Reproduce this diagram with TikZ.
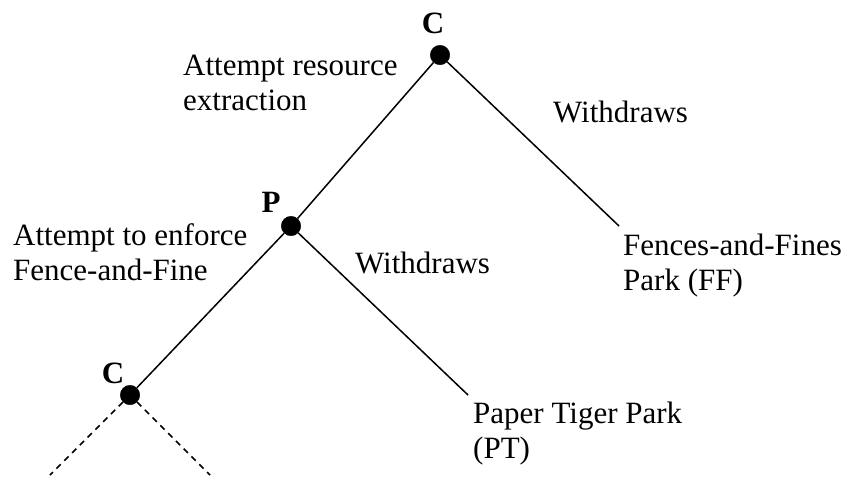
\documentclass[tikz,border=0pt]{standalone}
\usepackage{fontspec}
\setmainfont{Liberation Serif}
\begin{document}
\begin{tikzpicture}[x=1pt,y=-1pt,
  dot/.style={circle,fill=black,draw=black,inner sep=0pt,minimum size=19.5pt},
  lbl/.style={anchor=base west,inner sep=0pt,font=\fontsize{31}{35}\selectfont},
  clbl/.style={anchor=base,inner sep=0pt,font=\fontsize{31}{35}\selectfont\bfseries},
  edge/.style={line width=1.5pt},
  dedge/.style={line width=1.5pt,dash pattern=on 6pt off 5pt}]
\useasboundingbox (0,0) rectangle (854,482);
\node[dot] (c1) at (440,55) {};
\node[dot] (p) at (291,226) {};
\node[dot] (c2) at (130,395) {};
\coordinate (ff) at (619,226);
\coordinate (pt) at (468,395);
\coordinate (dl) at (50,475);
\coordinate (dr) at (210,475);
\draw[edge] (c1) -- (p);
\draw[edge] (c1) -- (ff);
\draw[edge] (p) -- (c2);
\draw[edge] (p) -- (pt);
\draw[dedge] (c2) -- (dl);
\draw[dedge] (c2) -- (dr);
\node[clbl] (tc1) at (433,33) {C};
\node[clbl] (tp) at (271,212) {P};
\node[clbl] (tc2) at (113,383) {C};
\node[lbl] (a1) at (183,75) {Attempt resource};
\node[lbl] (a2) at (183,110) {extraction};
\node[lbl] (w1) at (553,122) {Withdraws};
\node[lbl] (b1) at (13,245) {Attempt to enforce};
\node[lbl] (b2) at (13,280) {Fence-and-Fine};
\node[lbl] (w2) at (355,273) {Withdraws};
\node[lbl] (f1) at (623,255) {Fences-and-Fines};
\node[lbl] (f2) at (623,290) {Park (FF)};
\node[lbl] (t1) at (473,423) {Paper Tiger Park};
\node[lbl] (t2) at (473,458) {(PT)};
\end{tikzpicture}
\end{document}
